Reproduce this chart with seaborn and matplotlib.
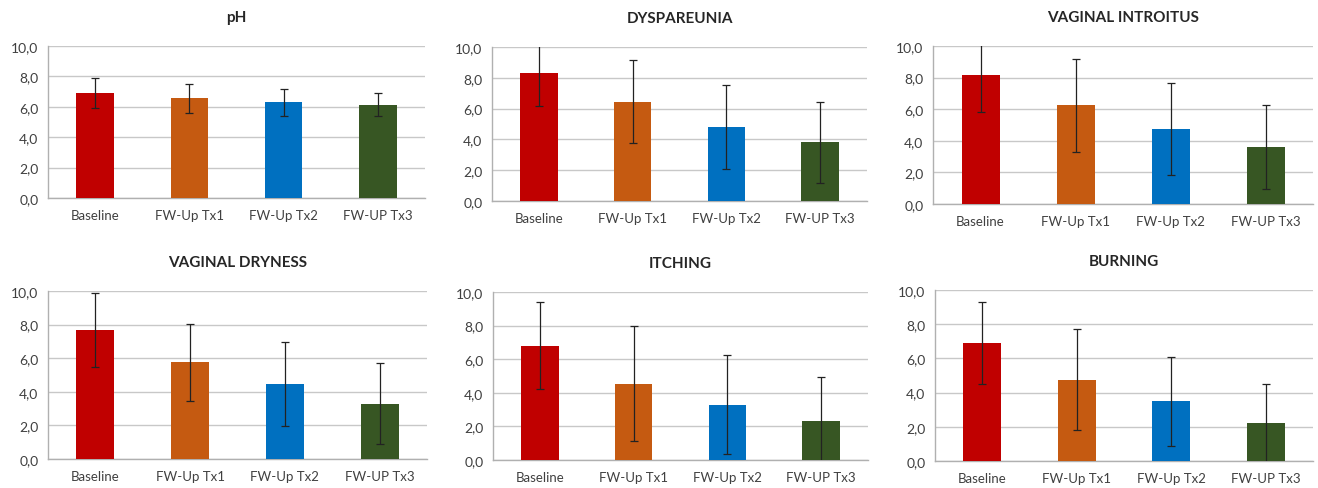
import matplotlib
matplotlib.use("Agg")
import matplotlib.pyplot as plt
import seaborn as sns
import pandas as pd
import numpy as np

groups = ["Baseline", "FW-Up Tx1", "FW-Up Tx2", "FW-UP Tx3"]
colors = ["#C00000", "#C55A11", "#0070C0", "#375623"]

titles = ["pH", "DYSPAREUNIA", "VAGINAL INTROITUS",
          "VAGINAL DRYNESS", "ITCHING", "BURNING"]

ph_mean = [6.9, 6.55, 6.3, 6.15]
ph_sd = [1.0, 0.95, 0.9, 0.75]
dysp_mean = [8.3, 6.45, 4.8, 3.8]
dysp_sd = [2.15, 2.7, 2.75, 2.6]
intro_mean = [8.15, 6.25, 4.75, 3.6]
intro_sd = [2.35, 2.95, 2.9, 2.65]
dry_mean = [7.7, 5.75, 4.45, 3.3]
dry_sd = [2.2, 2.3, 2.5, 2.4]
itch_mean = [6.8, 4.55, 3.3, 2.35]
itch_sd = [2.6, 3.4, 2.95, 2.6]
burn_mean = [6.9, 4.75, 3.5, 2.2]
burn_sd = [2.4, 2.95, 2.6, 2.3]

means = [ph_mean, dysp_mean, intro_mean, dry_mean, itch_mean, burn_mean]
sds = [ph_sd, dysp_sd, intro_sd, dry_sd, itch_sd, burn_sd]

sns.set_style("white")
plt.rcParams['font.family'] = ['Lato', 'DejaVu Sans']

W, H = 1318, 489
fig = plt.figure(figsize=(W / 100, H / 100), dpi=100)

# pixel boxes: (left, right, top, bottom)
boxes = [(48, 425, 47, 199), (492, 867, 48, 202), (933, 1313, 47, 205),
         (48, 427, 292, 460), (493, 868, 293, 461), (935, 1313, 291, 462)]

for i, (l, r, t, b) in enumerate(boxes):
    ax = fig.add_axes([l / W, 1 - b / H, (r - l) / W, (b - t) / H])
    df = pd.DataFrame({"group": groups, "value": means[i]})
    sns.barplot(data=df, x="group", y="value", hue="group", palette=colors,
                order=groups, hue_order=groups, width=0.4, legend=False,
                saturation=1, ax=ax, zorder=3, linewidth=0)
    ax.errorbar(np.arange(len(groups)), means[i], yerr=sds[i], fmt="none",
                ecolor="#222222", elinewidth=0.9, capsize=3, capthick=0.9,
                zorder=4)
    ax.set_ylim(0, 10)
    ax.set_xlim(-0.5, 3.5)
    ax.set_yticks(np.arange(0, 10.1, 2))
    ax.set_yticklabels([f"{v:.1f}".replace(".", ",") for v in np.arange(0, 10.1, 2)],
                       fontsize=10, color="#404040")
    ax.set_xticks(range(4))
    ax.set_xticklabels(groups, fontsize=9.5, color="#404040")
    ax.set_xticks(np.arange(-0.5, 4, 1), minor=True)
    ax.tick_params(axis="x", which="major", length=0, pad=8)
    ax.tick_params(axis="x", which="minor", length=4, color="#B0B0B0", direction="out")
    ax.tick_params(axis="y", which="major", length=4, color="#B0B0B0", direction="out", pad=3)
    ax.yaxis.grid(True, color="#C8C8C8", linewidth=1, zorder=0)
    ax.set_axisbelow(True)
    ax.set_xlabel("")
    ax.set_ylabel("")
    for s in ["top", "right"]:
        ax.spines[s].set_visible(False)
    for s in ["left", "bottom"]:
        ax.spines[s].set_color("#B0B0B0")
        ax.spines[s].set_linewidth(1)
    ax.set_title(titles[i], fontsize=11, fontweight="bold", color="#262626", pad=18)

fig.savefig("out.png", dpi=100)
